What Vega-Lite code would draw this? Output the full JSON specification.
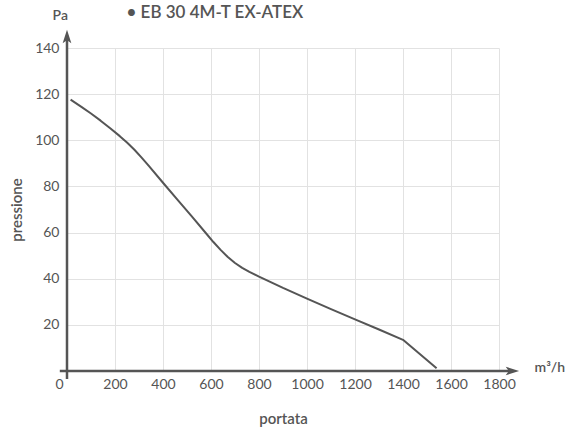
{
  "$schema": "https://vega.github.io/schema/vega-lite/v6.json",
  "autosize": "none",
  "width": 432,
  "height": 323,
  "padding": {"left": 67, "top": 48, "right": 79, "bottom": 56},
  "background": "white",
  "config": {
    "view": {"stroke": null},
    "font": "Lato",
    "axis": {"labelFont": "Lato", "titleFont": "Lato", "labelColor": "#555", "titleColor": "#555"}
  },
  "datasets": {
    "curve": [
      {"portata": 15, "pressione": 117.6},
      {"portata": 60, "pressione": 114.5},
      {"portata": 100, "pressione": 111.6},
      {"portata": 140, "pressione": 108.5},
      {"portata": 180, "pressione": 105.2},
      {"portata": 220, "pressione": 101.8},
      {"portata": 250, "pressione": 99.0},
      {"portata": 280, "pressione": 96.0},
      {"portata": 310, "pressione": 92.6},
      {"portata": 340, "pressione": 89.0},
      {"portata": 400, "pressione": 81.6},
      {"portata": 460, "pressione": 74.3},
      {"portata": 520, "pressione": 67.0},
      {"portata": 580, "pressione": 59.6},
      {"portata": 610, "pressione": 55.9},
      {"portata": 640, "pressione": 52.5},
      {"portata": 670, "pressione": 49.4},
      {"portata": 700, "pressione": 46.8},
      {"portata": 730, "pressione": 44.7},
      {"portata": 760, "pressione": 43.0},
      {"portata": 800, "pressione": 40.9},
      {"portata": 900, "pressione": 36.0},
      {"portata": 1000, "pressione": 31.4},
      {"portata": 1100, "pressione": 26.8},
      {"portata": 1200, "pressione": 22.4},
      {"portata": 1300, "pressione": 18.0},
      {"portata": 1400, "pressione": 13.5},
      {"portata": 1540, "pressione": 1.2}
    ],
    "axisLines": [
      {"x": -30, "x2": 1856, "y": 0, "y2": 0},
      {"x": 0, "x2": 0, "y": -3.5, "y2": 145}
    ],
    "arrows": [
      {"x": 1856, "y": 0, "dir": "right"},
      {"x": 0, "y": 145, "dir": "up"}
    ],
    "labels": [
      {"x": -60, "y": 153.8, "text": "Pa"},
      {"x": 1948, "y": 1.5, "text": "m³/h"}
    ],
    "heading": [
      {"x": 248, "y": 155, "text": "• EB 30 4M-T EX-ATEX"}
    ]
  },
  "layer": [
    {
      "data": {"name": "curve"},
      "mark": {"type": "line", "color": "#555", "strokeWidth": 2, "interpolate": "linear", "strokeJoin": "round"},
      "encoding": {
        "x": {
          "field": "portata", "type": "quantitative",
          "scale": {"domain": [0, 1800], "nice": false, "zero": false},
          "axis": {
            "title": "portata",
            "values": [0, 200, 400, 600, 800, 1000, 1200, 1400, 1600, 1800],
            "format": "d", "labelOverlap": false, "labelFlush": false,
            "grid": true, "gridColor": "#e2e2e2", "gridWidth": 1,
            "domain": false, "ticks": false,
            "labelFontSize": 14, "labelPadding": 6,
            "labelOffset": {"condition": {"test": "datum.value == 0", "value": -8}, "value": 0},
            "titleFontSize": 15, "titleFontWeight": 600, "titlePadding": 20
          }
        },
        "y": {
          "field": "pressione", "type": "quantitative",
          "scale": {"domain": [0, 140], "nice": false, "zero": false},
          "axis": {
            "title": "pressione",
            "values": [20, 40, 60, 80, 100, 120, 140],
            "format": "d", "labelFlush": false,
            "grid": true, "gridColor": "#e2e2e2", "gridWidth": 1,
            "domain": false, "ticks": false,
            "labelFontSize": 14, "labelPadding": 8,
            "titleFontSize": 15, "titleFontWeight": 600, "titlePadding": 10
          }
        }
      }
    },
    {
      "data": {"name": "axisLines"},
      "mark": {"type": "rule", "color": "#555", "strokeWidth": 2.5},
      "encoding": {
        "x": {"field": "x", "type": "quantitative"},
        "x2": {"field": "x2"},
        "y": {"field": "y", "type": "quantitative"},
        "y2": {"field": "y2"}
      }
    },
    {
      "data": {"name": "arrows"},
      "mark": {"type": "point", "filled": true, "color": "#555", "opacity": 1, "size": 180},
      "encoding": {
        "x": {"field": "x", "type": "quantitative"},
        "y": {"field": "y", "type": "quantitative"},
        "shape": {
          "field": "dir", "type": "nominal",
          "scale": {"domain": ["right", "up"], "range": ["M1,0L-1,-0.65L-0.55,0L-1,0.65Z", "M0,-1L-0.65,1L0,0.55L0.65,1Z"]},
          "legend": null
        }
      }
    },
    {
      "data": {"name": "labels"},
      "mark": {"type": "text", "color": "#555", "fontSize": 14, "fontWeight": 600, "font": "Lato", "align": "left", "baseline": "middle"},
      "encoding": {
        "x": {"field": "x", "type": "quantitative"},
        "y": {"field": "y", "type": "quantitative"},
        "text": {"field": "text"}
      }
    },
    {
      "data": {"name": "heading"},
      "mark": {"type": "text", "color": "#555", "fontSize": 17, "fontWeight": 600, "font": "Lato", "align": "left", "baseline": "middle"},
      "encoding": {
        "x": {"field": "x", "type": "quantitative"},
        "y": {"field": "y", "type": "quantitative"},
        "text": {"field": "text"}
      }
    }
  ]
}
